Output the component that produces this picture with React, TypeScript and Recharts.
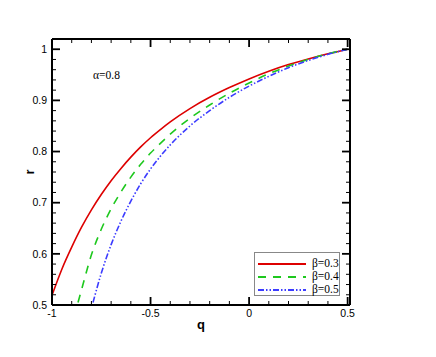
import React from 'react'
import { LineChart, Line, XAxis, YAxis } from 'recharts'

// β = 0.3
const qRed = [-1, -0.95, -0.9, -0.85, -0.8, -0.75, -0.7, -0.65, -0.6, -0.55, -0.5, -0.45, -0.4, -0.3, -0.2, -0.1, 0, 0.1, 0.2, 0.3, 0.4, 0.5]
const rRed = [0.519, 0.57, 0.613, 0.652, 0.686, 0.716, 0.743, 0.767, 0.789, 0.809, 0.827, 0.843, 0.858, 0.884, 0.906, 0.925, 0.942, 0.957, 0.97, 0.981, 0.991, 1.0]

// β = 0.4
const qGreen = [-0.868, -0.85, -0.8, -0.75, -0.7, -0.65, -0.6, -0.55, -0.5, -0.45, -0.4, -0.3, -0.2, -0.1, 0, 0.1, 0.2, 0.3, 0.4, 0.5]
const rGreen = [0.505, 0.53, 0.598, 0.648, 0.688, 0.721, 0.75, 0.775, 0.797, 0.816, 0.834, 0.865, 0.891, 0.914, 0.934, 0.952, 0.967, 0.98, 0.991, 1.0]

// β = 0.5
const qBlue = [-0.792, -0.75, -0.7, -0.65, -0.6, -0.55, -0.5, -0.45, -0.4, -0.3, -0.2, -0.1, 0, 0.1, 0.2, 0.3, 0.4, 0.5]
const rBlue = [0.505, 0.562, 0.618, 0.664, 0.703, 0.737, 0.766, 0.791, 0.813, 0.85, 0.88, 0.906, 0.928, 0.947, 0.964, 0.978, 0.99, 1.0]

const xTicks = [-1, -0.9, -0.8, -0.7, -0.6, -0.5, -0.4, -0.3, -0.2, -0.1, 0, 0.1, 0.2, 0.3, 0.4, 0.5]
const yTicks = [0.5, 0.52, 0.54, 0.56, 0.58, 0.6, 0.62, 0.64, 0.66, 0.68, 0.7, 0.72, 0.74, 0.76, 0.78, 0.8, 0.82, 0.84, 0.86, 0.88, 0.9, 0.92, 0.94, 0.96, 0.98, 1]

const toPoints = (qs: number[], rs: number[]) => qs.map((q, i) => ({ q, r: rs[i] }))

const series = [
  { name: 'β=0.3', data: toPoints(qRed, rRed), color: '#dd0000', dash: undefined as string | undefined },
  { name: 'β=0.4', data: toPoints(qGreen, rGreen), color: '#1ec81e', dash: '8 7' },
  { name: 'β=0.5', data: toPoints(qBlue, rBlue), color: '#3c3cff', dash: '6 2 1.5 2 1.5 2' },
]

const SANS = '"Liberation Sans", Arial, sans-serif'
const SERIF = '"Liberation Serif", "DejaVu Serif", serif'

const isMajorX = (v: number) => Math.abs(v * 2 - Math.round(v * 2)) < 1e-6
const isMajorY = (v: number) => Math.abs(v * 10 - Math.round(v * 10)) < 1e-6

const BottomTick = (props: any) => {
  const { x, y, payload } = props
  const major = isMajorX(payload.value)
  return (
    <g>
      <line x1={x} x2={x} y1={y} y2={y - (major ? 8 : 4)} stroke="#000" strokeWidth={major ? 1.8 : 1} />
      {major && (
        <text x={x} y={y + 12} textAnchor="middle" fontSize={10.5} fontFamily={SANS} fill="#000">
          {String(payload.value)}
        </text>
      )}
    </g>
  )
}

const TopTick = (props: any) => {
  const { x, y, payload } = props
  const major = isMajorX(payload.value)
  return <line x1={x} x2={x} y1={y} y2={y + (major ? 8 : 4)} stroke="#000" strokeWidth={major ? 1.8 : 1} />
}

const LeftTick = (props: any) => {
  const { x, y, payload } = props
  const major = isMajorY(payload.value)
  return (
    <g>
      <line x1={x} x2={x + (major ? 8 : 4)} y1={y} y2={y} stroke="#000" strokeWidth={major ? 1.8 : 1} />
      {major && (
        <text x={x - 5} y={y} dy="0.35em" textAnchor="end" fontSize={10.5} fontFamily={SANS} fill="#000">
          {String(payload.value)}
        </text>
      )}
    </g>
  )
}

const RightTick = (props: any) => {
  const { x, y, payload } = props
  const major = isMajorY(payload.value)
  return <line x1={x} x2={x - (major ? 8 : 4)} y1={y} y2={y} stroke="#000" strokeWidth={major ? 1.8 : 1} />
}

// legend box sits inside the plot, bottom right
const LegendBox = () => (
  <div style={{ position: 'absolute', left: 254, top: 252, width: 86, height: 44, border: '1px solid #888', background: '#fff', boxSizing: 'border-box', paddingTop: 4 }}>
    {series.map(s => (
      <div key={s.name} style={{ display: 'flex', alignItems: 'center', height: 13 }}>
        <svg width={57} height={13} style={{ display: 'block' }}>
          <line x1={3} x2={51} y1={7} y2={7} stroke={s.color} strokeWidth={1.8} strokeDasharray={s.dash} />
        </svg>
        <span style={{ fontFamily: SERIF, fontSize: 11.5, color: '#000', lineHeight: '13px' }}>{s.name}</span>
      </div>
    ))}
  </div>
)

export default function App() {
  return (
    <div style={{ position: 'absolute', left: 0, top: 0, width: 436, height: 357, background: '#fff' }}>
      <LineChart width={436} height={357} margin={{ top: 34, right: 76, bottom: 22, left: 0 }}>
        <XAxis
          xAxisId="b"
          type="number"
          dataKey="q"
          orientation="bottom"
          domain={[-1, 0.512]}
          allowDataOverflow
          ticks={xTicks}
          interval={0}
          height={30}
          tickSize={0}
          tickMargin={0}
          tickLine={false}
          axisLine={{ stroke: '#000', strokeWidth: 2 }}
          tick={<BottomTick />}
          label={(p: any) => {
            const vb = p.viewBox
            return (
              <text x={vb.x + vb.width / 2} y={vb.y + 24} textAnchor="middle" fontSize={13} fontWeight="bold" fontFamily={SANS} fill="#000">q</text>
            )
          }}
        />
        <XAxis
          xAxisId="t"
          type="number"
          dataKey="q"
          orientation="top"
          domain={[-1, 0.512]}
          allowDataOverflow
          ticks={xTicks}
          interval={0}
          height={5}
          tickSize={0}
          tickMargin={0}
          tickLine={false}
          axisLine={{ stroke: '#000', strokeWidth: 2 }}
          tick={<TopTick />}
        />
        <YAxis
          yAxisId="l"
          type="number"
          orientation="left"
          domain={[0.5, 1.02]}
          allowDataOverflow
          ticks={yTicks}
          interval={0}
          width={52}
          tickSize={0}
          tickMargin={0}
          tickLine={false}
          axisLine={{ stroke: '#000', strokeWidth: 2 }}
          tick={<LeftTick />}
          label={(p: any) => {
            const vb = p.viewBox
            const cx = vb.x + 34
            const cy = vb.y + vb.height / 2
            return (
              <text x={cx} y={cy} transform={`rotate(-90 ${cx} ${cy})`} textAnchor="middle" fontSize={13} fontWeight="bold" fontFamily={SANS} fill="#000">r</text>
            )
          }}
        />
        <YAxis
          yAxisId="rt"
          type="number"
          orientation="right"
          domain={[0.5, 1.02]}
          allowDataOverflow
          ticks={yTicks}
          interval={0}
          width={10}
          tickSize={0}
          tickMargin={0}
          tickLine={false}
          axisLine={{ stroke: '#000', strokeWidth: 2 }}
          tick={<RightTick />}
        />
        {series.map(s => (
          <Line
            key={s.name}
            xAxisId="b"
            yAxisId="l"
            data={s.data}
            dataKey="r"
            name={s.name}
            type="monotone"
            stroke={s.color}
            strokeWidth={1.6}
            strokeDasharray={s.dash}
            dot={false}
            activeDot={false}
            isAnimationActive={false}
          />
        ))}
      </LineChart>
      <LegendBox />
      <div style={{ position: 'absolute', left: 93, top: 69, fontFamily: SERIF, fontSize: 11.5, color: '#000', lineHeight: '13px' }}>
        α=0.8
      </div>
    </div>
  )
}
